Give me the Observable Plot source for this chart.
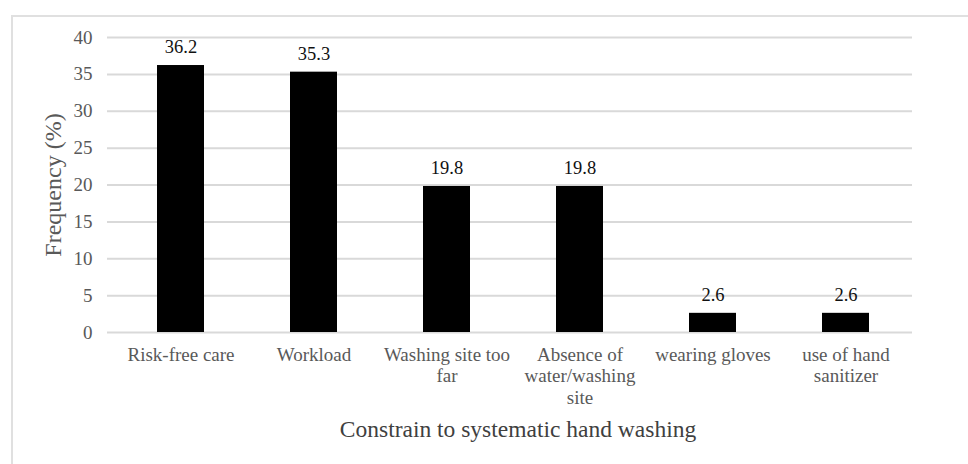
<!DOCTYPE html>
<html>
<head>
<meta charset="utf-8">
<script src="https://cdn.jsdelivr.net/npm/d3@7"></script>
<script src="https://cdn.jsdelivr.net/npm/@observablehq/plot@0.6"></script>
<style>
  html, body { margin: 0; padding: 0; background: #fff; }
  #wrap { position: relative; width: 968px; height: 464px; overflow: hidden; }
  #frame {
    position: absolute; left: 11px; top: 15px; right: -10px; bottom: -10px;
    border-left: 2px solid #e0e0e0; border-top: 2px solid #e0e0e0;
  }
  #chart { position: absolute; left: 0; top: 0; }
</style>
</head>
<body>
<div id="wrap"><div id="frame"></div><div id="chart"></div></div>
<script>
// Reported constraints to systematic hand washing
const categories = [
  "Risk-free care",
  "Workload",
  "Washing site too far",
  "Absence of water/washing site",
  "wearing gloves",
  "use of hand sanitizer"
];
// Wrapped tick labels, one per category
const tickLabels = [
  "Risk-free care",
  "Workload",
  "Washing site too\nfar",
  "Absence of\nwater/washing\nsite",
  "wearing gloves",
  "use of hand\nsanitizer"
];
const values = [36.2, 35.3, 19.8, 19.8, 2.6, 2.6];
const yTicks = [0, 5, 10, 15, 20, 25, 30, 35, 40];
const xTitle = "Constrain to systematic hand washing";
const yTitle = "Frequency (%)";

const serif = "Liberation Serif";
const data = categories.map((c, i) => ({category: c, value: values[i], label: String(values[i])}));
const labelOf = new Map(categories.map((c, i) => [c, tickLabels[i]]));

const chart = Plot.plot({
  width: 968,
  height: 464,
  marginLeft: 107,
  marginRight: 56,
  marginTop: 37,
  marginBottom: 132,
  style: {fontFamily: serif, background: "transparent"},
  x: {domain: categories, paddingInner: 0.65, paddingOuter: 0.325, insetLeft: 6, label: null},
  y: {domain: [0, 40], label: null},
  marks: [
    Plot.gridY(yTicks, {stroke: "#d9d9d9", strokeOpacity: 1, strokeWidth: 2}),
    Plot.barY(data, {x: "category", y: "value", fill: "#000"}),
    Plot.text(data, {x: "category", y: "value", text: "label", dy: -18, fill: "#111", fontSize: 18.5, fontFamily: serif}),
    Plot.axisY(yTicks, {tickSize: 0, tickPadding: 15, fontSize: 19, fontFamily: serif, fill: "#595959", label: null}),
    Plot.axisX({
      tickSize: 0, tickPadding: 13, fontSize: 19, fontFamily: serif, fill: "#595959", label: null,
      lineHeight: 1.13, tickFormat: (d) => labelOf.get(d)
    }),
    Plot.text([xTitle], {frameAnchor: "bottom", dx: 8, dy: 104, fontSize: 23.5, fontFamily: serif, fill: "#404040"}),
    Plot.text([yTitle], {frameAnchor: "left", textAnchor: "middle", dx: -54, rotate: -90, fontSize: 24, fontFamily: serif, fill: "#595959"})
  ]
});
document.getElementById("chart").appendChild(chart);
</script>
</body>
</html>
